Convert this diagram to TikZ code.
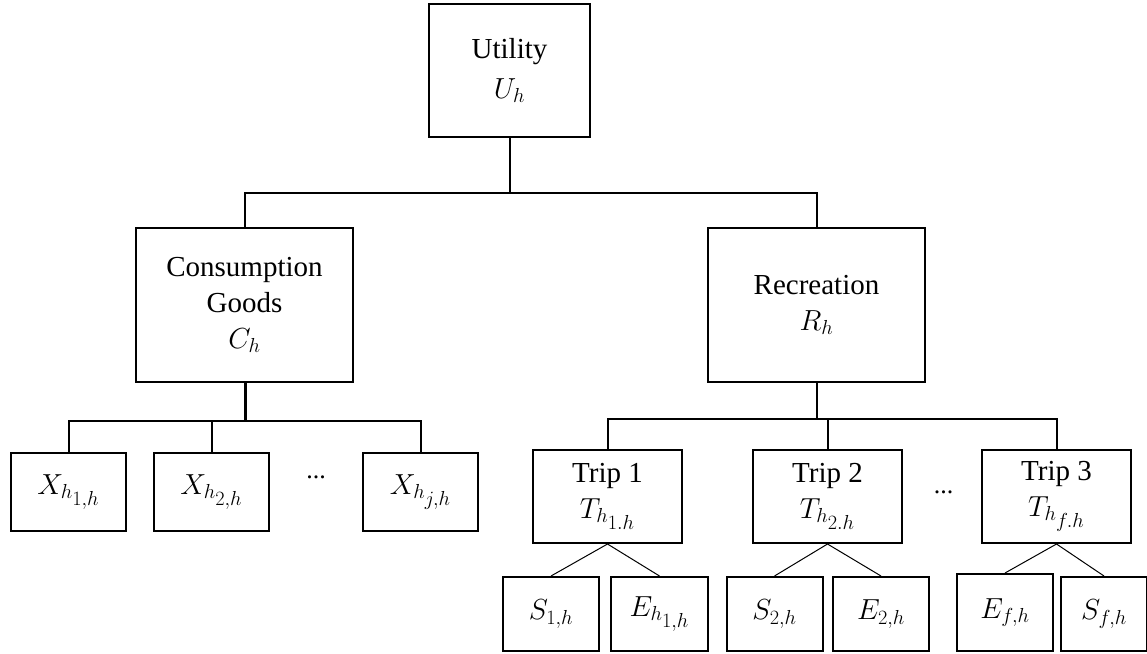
\documentclass[tikz,border=0pt]{standalone}
\usepackage{fix-cm}
\usepackage{fontspec}
\setmainfont{Liberation Serif}
% second-level subscripts kept at script size
\newcommand{\subsub}[1]{_{\scriptstyle #1}}
\begin{document}
\begin{tikzpicture}[x=1pt,y=-1pt,
  box/.style={draw, line width=2pt, inner sep=0pt, align=center,
    font=\fontsize{29}{36}\selectfont},
  link/.style={line width=2pt},
  stem/.style={line width=3pt},
  twig/.style={line width=1pt},
  dots/.style={font=\fontsize{26}{30}\selectfont, inner sep=0pt, anchor=base}]
\useasboundingbox (0,0) rectangle (1147,653);

% top level
\node[box, minimum width=161pt, minimum height=133pt] (util) at (509.5,70.5)
  {Utility\\[4pt]$U_h$};

% second level
\node[box, minimum width=217pt, minimum height=154pt] (cons) at (244.5,305)
  {Consumption\\Goods\\$C_h$};
\node[box, minimum width=217pt, minimum height=154pt] (rec) at (816.5,305)
  {Recreation\\$R_h$};

% goods
\node[box, minimum width=115pt, minimum height=78pt] (x1) at (68.5,492) {$X_{h\subsub{1,h}}$};
\node[box, minimum width=115pt, minimum height=78pt] (x2) at (211.5,492) {$X_{h\subsub{2,h}}$};
\node[box, minimum width=115pt, minimum height=78pt] (xj) at (420.5,492) {$X_{h\subsub{j,h}}$};
\node[dots] (xdots) at (316,478) {...};

% trips
\node[box, minimum width=149pt, minimum height=93pt] (t1) at (607.5,496.5) {Trip 1\\$T_{h\subsub{1.h}}$};
\node[box, minimum width=149pt, minimum height=93pt] (t2) at (827.5,496.5) {Trip 2\\$T_{h\subsub{2.h}}$};
\node[box, minimum width=149pt, minimum height=93pt] (t3) at (1056.5,496.5) {Trip 3\\$T_{h\subsub{f.h}}$};
\node[dots] (tdots) at (943.5,493) {...};

% trip components
\node[box, minimum width=96pt, minimum height=74pt] (s1) at (551,614) {$S_{1,h}$};
\node[box, minimum width=97pt, minimum height=74pt] (e1) at (659.5,614) {$E_{h\subsub{1,h}}$};
\node[box, minimum width=96pt, minimum height=74pt] (s2) at (774.5,614) {$S_{2,h}$};
\node[box, minimum width=96pt, minimum height=74pt] (e2) at (881,614) {$E_{2,h}$};
\node[box, minimum width=96pt, minimum height=77pt] (ef) at (1005,612.5) {$E_{f,h}$};
\node[box, minimum width=86pt, minimum height=74pt] (sf) at (1104,614) {$S_{f,h}$};

% junction points
\coordinate (ub) at (util.south |- 0,193);
\coordinate (cb) at (245,421);
\coordinate (rb) at (rec.south |- 0,419);

% utility branch
\draw[link] (util.south) -- (ub);
\draw[link] (cons.north) -- (cons.north |- ub) -| (rec.north);

% consumption branch
\draw[stem] (cons.south -| cb) -- (cb);
\draw[link] (x1.north) -- (x1.north |- cb) -- (xj.north |- cb) -- (xj.north);
\draw[link] (x2.north) -- (x2.north |- cb);

% recreation branch
\draw[link] (rec.south) -- (rb);
\draw[link] (t1.north) -- (t1.north |- rb) -- (t3.north |- rb) -- (t3.north);
\draw[link] (t2.north) -- (t2.north |- rb);

% trip splits
\draw[twig] (t1.south) -- (s1.north);
\draw[twig] (t1.south) -- (e1.north);
\draw[twig] (t2.south) -- (s2.north);
\draw[twig] (t2.south) -- (e2.north);
\draw[twig] (t3.south) -- (ef.north);
\draw[twig] (t3.south) -- (sf.north);
\end{tikzpicture}
\end{document}
